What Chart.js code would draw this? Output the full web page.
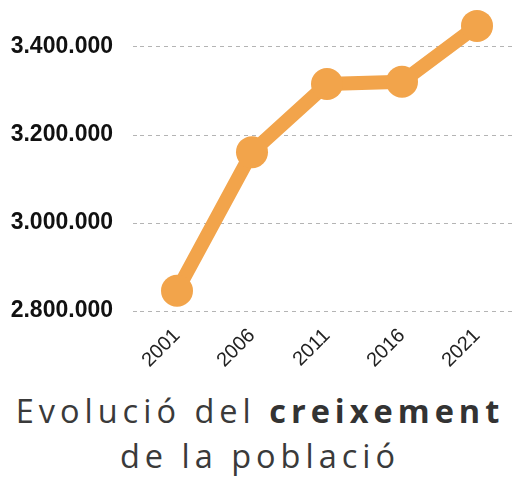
<!DOCTYPE html>
<html>
<head>
<meta charset="utf-8">
<script src="https://cdn.jsdelivr.net/npm/chart.js@4/dist/chart.umd.min.js"></script>
<style>
  html, body { margin: 0; padding: 0; background: #fff; }
  #wrap { position: relative; width: 520px; height: 483px; overflow: hidden; }
  #c { position: absolute; left: 0; top: 0; }
  #title {
    position: absolute; left: 0; top: 388px; width: 520px; text-align: center;
    font-family: "Open Sans", "Lato", sans-serif; font-weight: 400; font-size: 32.5px;
    letter-spacing: 5px; line-height: 45px; color: #3a3a3a;
  }
  #title b { font-weight: 700; color: #333; }
</style>
</head>
<body>
<div id="wrap">
  <canvas id="c" width="520" height="380"></canvas>
  <div id="title">Evolució del <b>creixement</b><br>de la població</div>
</div>
<script>
const years = ["2001", "2006", "2011", "2016", "2021"];
const population = [2846000, 3161000, 3316000, 3321000, 3448000];
const yTicks = [2800000, 3000000, 3200000, 3400000];
const lineColor = "#F2A44B";

function fmt(v) {
  return String(Math.round(v)).replace(/\B(?=(\d{3})+(?!\d))/g, ".");
}

new Chart(document.getElementById("c"), {
  type: "line",
  data: {
    labels: years,
    datasets: [{
      data: population,
      borderColor: lineColor,
      backgroundColor: lineColor,
      borderWidth: 14,
      pointRadius: 16,
      pointHoverRadius: 16,
      pointBorderWidth: 0,
      tension: 0,
      clip: false
    }]
  },
  options: {
    responsive: false,
    animation: false,
    layout: { autoPadding: false, padding: { top: 25, right: 5.5, left: 0, bottom: 0 } },
    plugins: { legend: { display: false }, tooltip: { enabled: false }, title: { display: false } },
    scales: {
      x: {
        type: "category",
        offset: true,
        grid: { display: false, drawTicks: false },
        border: { display: false },
        ticks: {
          minRotation: 45, maxRotation: 45, padding: 13,
          color: "#222",
          font: { family: "Liberation Sans, Arial, sans-serif", size: 20 }
        },
        afterFit: (s) => { s.height = 69; s.paddingLeft = 0; s.paddingRight = 0; }
      },
      y: {
        min: 2800000,
        max: 3450000,
        afterBuildTicks: (s) => { s.ticks = yTicks.map(v => ({ value: v })); },
        grid: {
          color: "#b4b4b4", lineWidth: 1,
          tickBorderDash: [4, 4],
          drawTicks: true, tickLength: 6.5
        },
        border: { display: false, dash: [4, 4] },
        ticks: {
          padding: 20,
          color: "#111",
          font: { family: "Liberation Sans, Arial, sans-serif", size: 23, weight: "bold" },
          callback: (v) => fmt(v)
        },
        afterFit: (s) => { s.width = 139.5; s.paddingTop = 0; s.paddingBottom = 0; }
      }
    }
  }
});
</script>
</body>
</html>
